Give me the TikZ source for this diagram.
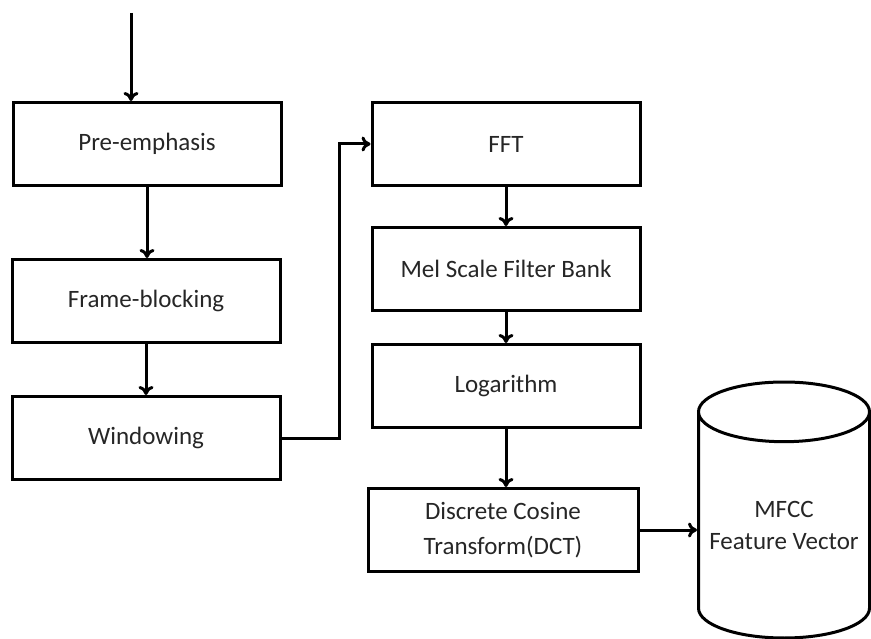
\documentclass[tikz,border=0pt]{standalone}
\usepackage{fontspec}
\setmainfont{Carlito}
\usepackage{tikz}
\usetikzlibrary{arrows.meta,shapes.geometric}

\begin{document}
\begin{tikzpicture}[x=1pt, y=-1pt, line width=3pt,
    stage/.style={draw, rectangle, minimum width=268pt, minimum height=83pt,
        inner sep=0pt, align=center, text=black!85, font=\fontsize{25}{35}\selectfont},
    store/.style={draw, cylinder, shape border rotate=90, aspect=0.4,
        minimum width=171pt, minimum height=256pt, inner sep=0pt,
        align=center, text=black!85, font=\fontsize{25}{32}\selectfont},
    >={To[length=9pt,width=15pt]}]
    \useasboundingbox (0,0) rectangle (871,639);
    % left column with absolute coordinates
    \node[stage] (pre) at (147,144) {Pre-emphasis};
    \node[stage] (frame) at (146,301) {Frame-blocking};
    \node[stage] (win) at (146,438) {Windowing};
    % right column
    \node[stage] (fft) at (506,144) {FFT};
    \node[stage] (mel) at (506,269) {Mel Scale Filter Bank};
    \node[stage] (log) at (506,386) {Logarithm};
    \node[stage, minimum width=270pt] (dct) at (503,530) {Discrete Cosine\\Transform(DCT)};
    \node[store, anchor=shape center] (cyl) at (784,510) {MFCC\\Feature Vector};
    \coordinate (in) at (131,13);
    \coordinate (bend) at (339,438);
    \draw[->] (in) -- (in |- pre.north);
    \draw[->] (pre.south) -- (pre.south |- frame.north);
    \draw[->] (frame.south) -- (frame.south |- win.north);
    \draw[->] (win.east) -- (bend) |- (fft.west);
    \draw[->] (fft.south) -- (fft.south |- mel.north);
    \draw[->] (mel.south) -- (mel.south |- log.north);
    \draw[->] (log.south) -- (log.south |- dct.north);
    \draw[->] (dct.east) -- (dct.east -| cyl.west);
\end{tikzpicture}
\end{document}
